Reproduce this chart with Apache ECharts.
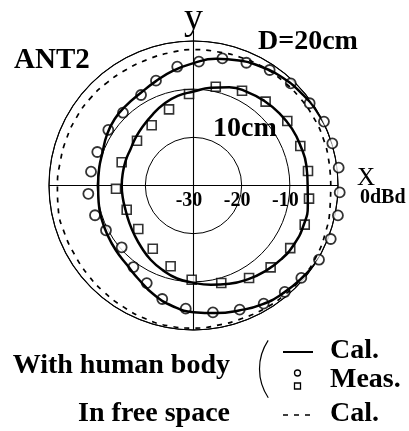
<!DOCTYPE html>
<html>
<head>
<meta charset="utf-8">
<script src="https://cdn.jsdelivr.net/npm/echarts@6/dist/echarts.min.js"></script>
<style>
  html, body { margin: 0; padding: 0; background: #fff; }
  #chart { width: 409px; height: 431px; }
</style>
</head>
<body>
<div id="chart"></div>
<script>
// angles in degrees, measured counter-clockwise from the x axis
const calAngles = [0, 10, 20, 30, 40, 50, 60, 70, 80, 90, 100, 110, 120, 130, 140, 150, 160, 170, 180,
  190, 200, 210, 220, 230, 240, 250, 260, 270, 280, 290, 300, 310, 320, 330, 340, 350, 360]

// relative gain in dBd
const freeSpaceCal = [-1.5, -1.45, -1.35, -1.35, -1.4, -1.45, -1.5, -1.65, -1.8, -1.8, -2.0, -2.15, -2.2,
  -2.1, -1.95, -1.9, -1.9, -1.9, -1.75, -1.5, -1.45, -1.45, -1.3, -1.1, -0.9, -0.6, -0.4, -0.4,
  -0.55, -0.6, -0.5, -0.45, -0.4, -0.55, -0.9, -1.25, -1.5]

const body20Cal = [0.4, 0.3, 0.15, -0.1, -0.5, -0.95, -1.6, -2.4, -3.3, -4.6, -5.8, -7.0, -7.9, -8.3,
  -8.6, -9.2, -9.9, -10.1, -10.2, -10.0, -9.7, -9.4, -9.0, -8.5, -7.4, -5.9, -4.6, -3.7, -3.1, -2.4,
  -1.5, -0.9, -0.4, 0.2, 0.55, 0.55, 0.4]

const body10Cal = [-6.3, -6.2, -6.3, -6.4, -6.7, -7.1, -7.6, -8.3, -9.4, -10.5, -11.1, -12.0, -13.0,
  -13.8, -14.4, -14.9, -15.0, -15.1, -15.1, -15.1, -15.0, -14.6, -14.0, -13.2, -12.2, -11.3, -10.4,
  -9.8, -9.1, -8.3, -7.5, -6.8, -6.2, -5.8, -5.7, -5.9, -6.3]

const meas20Angles = [87.5, 77.2, 66.7, 56.6, 46.4, 35.3, 26.1, 16.9, 7.0, 357.3, 348.3, 338.7, 329.4,
  319.4, 310.6, 300.7, 290.4, 278.7, 266.4, 254.6, 244.4, 233.6, 220.7, 207.1, 196.8, 184.5, 172.3,
  160.8, 146.9, 134.1, 120.1, 109.7, 97.8]
const meas20Values = [-4.27, -2.93, -2.25, -1.28, -0.72, -0.45, 0.16, 0.12, 0.37, 0.39, 0.62, 0.58, 0.27,
  -0.52, -0.89, -1.46, -2.49, -3.36, -4.38, -5.56, -7.54, -8.97, -10.33, -9.59, -8.64, -8.1, -8.53,
  -8.85, -8.89, -8.96, -8.28, -6.89, -5.11]

const meas10Angles = [92.8, 107.8, 124.8, 141.6, 162.1, 182.4, 199.9, 218.2, 237.2, 254.2, 268.9, 285.9,
  301.0, 313.3, 327.1, 340.6, 353.5, 7.2, 20.3, 34.5, 49.3, 62.9, 77.3]
const meas10Values = [-10.98, -13.39, -14.78, -15.03, -14.33, -13.9, -15.25, -15.41, -14.38, -12.57,
  -10.44, -8.95, -7.6, -6.65, -6.08, -5.52, -5.86, -6.04, -6.36, -6.37, -7.04, -7.89, -8.97]

const radiusTicks = [-30, -20, -10, 0]

const pairs = (values, angles) => values.map((v, i) => [v, angles[i]])

const SERIF = 'Liberation Serif'
const txt = (text, x, y, size, opts = {}) => ({
  type: 'text',
  x: x,
  y: y,
  style: {
    text: text,
    fill: '#000',
    font: `${opts.weight || 'bold'} ${size}px "${SERIF}"`,
    textAlign: opts.align || 'left',
    textVerticalAlign: opts.valign || 'middle'
  }
})

const chart = echarts.init(document.getElementById('chart'))
chart.setOption({
  backgroundColor: '#fff',
  animation: false,
  polar: {
    center: [193.5, 185.5],
    radius: 144.5
  },
  angleAxis: {
    type: 'value',
    min: 0,
    max: 360,
    interval: 90,
    startAngle: 0,
    clockwise: false,
    axisLine: { lineStyle: { color: '#000', width: 1.1 } },
    axisTick: { show: false },
    axisLabel: { show: false },
    splitLine: { lineStyle: { color: '#000', width: 1.1 } }
  },
  radiusAxis: {
    type: 'value',
    min: radiusTicks[0],
    max: radiusTicks[radiusTicks.length - 1],
    interval: 10,
    axisLine: { show: false },
    axisTick: { show: false },
    axisLabel: {
      color: '#000',
      fontFamily: SERIF,
      fontWeight: 'bold',
      fontSize: 20,
      verticalAlign: 'top',
      margin: -5,
      padding: [0, 9, 0, 0],
      formatter: v => (v === 0 ? '' : String(v))
    },
    splitLine: { lineStyle: { color: '#000', width: 1 } }
  },
  series: [
    {
      name: 'In free space Cal.',
      type: 'line',
      coordinateSystem: 'polar',
      data: pairs(freeSpaceCal, calAngles),
      smooth: true,
      symbol: 'none',
      clip: false,
      lineStyle: { color: '#000', width: 1.7, type: [5, 6] }
    },
    {
      name: 'D=20cm Cal.',
      type: 'line',
      coordinateSystem: 'polar',
      data: pairs(body20Cal, calAngles),
      smooth: true,
      symbol: 'none',
      clip: false,
      lineStyle: { color: '#000', width: 2.5 }
    },
    {
      name: 'D=10cm Cal.',
      type: 'line',
      coordinateSystem: 'polar',
      data: pairs(body10Cal, calAngles),
      smooth: true,
      symbol: 'none',
      clip: false,
      lineStyle: { color: '#000', width: 2.5 }
    },
    {
      name: 'D=20cm Meas.',
      type: 'scatter',
      coordinateSystem: 'polar',
      data: pairs(meas20Values, meas20Angles),
      symbol: 'circle',
      symbolSize: 10,
      clip: false,
      itemStyle: { color: '#fff', borderColor: '#000', borderWidth: 1.8 }
    },
    {
      name: 'D=10cm Meas.',
      type: 'scatter',
      coordinateSystem: 'polar',
      data: pairs(meas10Values, meas10Angles),
      symbol: 'rect',
      symbolSize: 9,
      clip: false,
      itemStyle: { color: '#fff', borderColor: '#000', borderWidth: 1.6 }
    }
  ],
  graphic: [
    {
      type: 'line',
      shape: { x1: 193.5, y1: 41, x2: 193.5, y2: 31 },
      style: { stroke: '#000', lineWidth: 1.1 }
    },
    txt('y', 193.5, 38, 38, { weight: 'normal', align: 'center', valign: 'bottom' }),
    txt('ANT2', 14, 61, 29),
    txt('D=20cm', 258, 42, 28),
    txt('10cm', 213, 129, 28),
    txt('X', 357, 178, 25, { weight: 'normal' }),
    txt('0dBd', 360, 198, 20),
    // legend
    txt('With human body', 230, 366, 28, { align: 'right' }),
    txt('In free space', 230, 414, 28, { align: 'right' }),
    txt('Cal.', 330, 351, 28),
    txt('Meas.', 330, 380, 28),
    txt('Cal.', 330, 414, 28),
    {
      type: 'arc',
      shape: { cx: 311, cy: 369, r: 51.5, startAngle: 2.55, endAngle: 3.73, clockwise: true },
      style: { stroke: '#000', lineWidth: 1.2, fill: null }
    },
    {
      type: 'line',
      shape: { x1: 283, y1: 352, x2: 313, y2: 352 },
      style: { stroke: '#000', lineWidth: 2 }
    },
    {
      type: 'circle',
      shape: { cx: 297.5, cy: 373, r: 3 },
      style: { stroke: '#000', lineWidth: 1.3, fill: '#fff' }
    },
    {
      type: 'rect',
      shape: { x: 294.5, y: 383, width: 6, height: 6 },
      style: { stroke: '#000', lineWidth: 1.3, fill: '#fff' }
    },
    {
      type: 'line',
      shape: { x1: 283, y1: 415, x2: 313, y2: 415 },
      style: { stroke: '#000', lineWidth: 1.6, lineDash: [5, 6] }
    }
  ]
})
</script>
</body>
</html>
